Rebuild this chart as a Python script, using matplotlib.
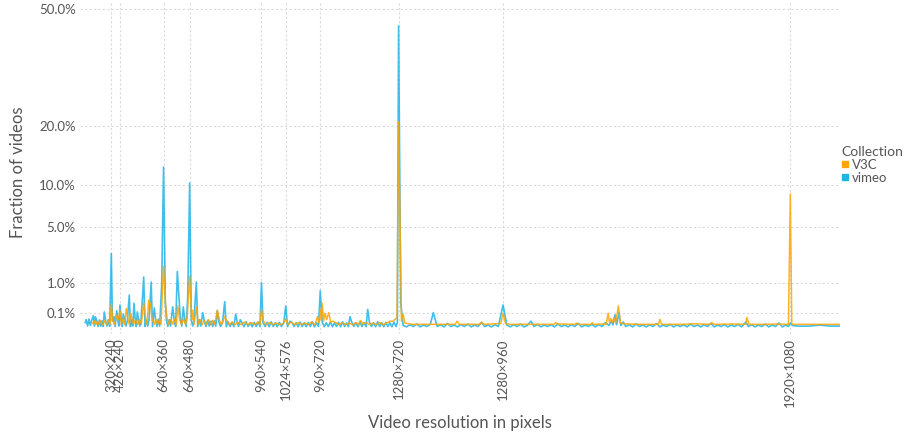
import numpy as np
import matplotlib
matplotlib.use('Agg')
import matplotlib.pyplot as plt
from matplotlib.lines import Line2D

# ---------------- data (x in kilo-pixels, y in percent of videos) ----------------
tick_res_px = [76800, 102240, 230400, 307200, 518400, 589824, 691200, 921600, 1228800, 2073600]
tick_labels = ['320×240', '426×240', '640×360', '640×480', '960×540', '1024×576',
               '960×720', '1280×720', '1280×960', '1920×1080']

y_ticks_pct = [0.1, 1.0, 5.0, 10.0, 20.0, 50.0]
y_tick_labels = ['0.1%', '1.0%', '5.0%', '10.0%', '20.0%', '50.0%']

vimeo_peaks = [(23.8, 0.069), (30, 0.058), (56.2, 0.12), (76.8, 2.7), (84.7, 0.058), (92.6, 0.14),
               (102.24, 0.25), (112, 0.09), (129.7, 0.52), (143.5, 0.29), (153.2, 0.12), (167.9, 0.35),
               (172, 1.26), (194, 1.02), (203.2, 0.19), (225, 0.96), (230.4, 12.7), (235.6, 0.33),
               (257.3, 0.21), (270.9, 1.55), (275.9, 0.44), (288.5, 0.21), (301.5, 0.47), (307.2, 10.3),
               (326.7, 1.02), (345.6, 0.11), (388.5, 0.14), (410.3, 0.33), (442.6, 0.09), (456.2, 0.03),
               (518.4, 1.0), (589.8, 0.23), (602, 0.02), (691.2, 0.67), (778.8, 0.058), (830.8, 0.16),
               (921.6, 44.9), (928, 0.29), (1023.8, 0.11), (1228.8, 0.25), (1311, 0.02), (1558, 0.08),
               (1570, 0.11), (1943, 0.015), (2073.6, 0.01)]

vimeo_base = [(0, 0.012), (3, 0.03), (7, 0.001), (11, 0.035), (15, 0.002), (19, 0.025), (27, 0.001), (34, 0.022),
              (38, 0.0005), (42, 0.028), (46, 0.001), (50, 0.02), (53, 0.0005), (60, 0.025), (64, 0.001),
              (68, 0.03), (72, 0.0008), (80, 0.02), (88, 0.0005), (96, 0.025), (99, 0.001), (106, 0.03),
              (109, 0.0005), (116, 0.035), (120, 0.001), (124, 0.025), (133, 0.0005), (137, 0.03), (140, 0.001),
              (147, 0.035), (150, 0.0005), (157, 0.025), (161, 0.001), (164, 0.03), (176, 0.0005), (180, 0.025),
              (184, 0.001), (188, 0.035), (198, 0.0005), (207, 0.03), (211, 0.0005), (215, 0.035), (219, 0.001),
              (239, 0.025), (243, 0.0005), (247, 0.03), (251, 0.001), (262, 0.025), (266, 0.0005), (280, 0.03),
              (284, 0.001), (293, 0.025), (297, 0.0005), (312, 0.03), (316, 0.001), (320, 0.025), (331, 0.0005),
              (336, 0.03), (340, 0.001), (350, 0.025), (355, 0.0005), (360, 0.025), (365, 0.001), (370, 0.02),
              (375, 0.0005), (380, 0.022), (384, 0.001), (393, 0.018), (398, 0.0005), (404, 0.014), (415, 0.0003),
              (420, 0.016), (426, 0.0005), (432, 0.013), (437, 0.0003), (447, 0.015), (451, 0.0005), (461, 0.011),
              (467, 0.0003), (473, 0.016), (479, 0.0005), (485, 0.011), (491, 0.0003), (497, 0.013), (503, 0.0005),
              (509, 0.015), (514, 0.0003), (523, 0.011), (529, 0.0005), (535, 0.013), (541, 0.0003), (547, 0.016),
              (553, 0.0005), (559, 0.011), (565, 0.0003), (571, 0.013), (577, 0.0005), (584, 0.011), (595, 0.0003),
              (608, 0.013), (614, 0.0005), (620, 0.011), (626, 0.0003), (632, 0.015), (638, 0.0005), (644, 0.011),
              (650, 0.0003), (656, 0.013), (662, 0.0005), (668, 0.016), (674, 0.0003), (680, 0.011), (686, 0.0005),
              (697, 0.013), (703, 0.0003), (709, 0.011), (715, 0.0005), (721, 0.015), (727, 0.0003), (733, 0.011),
              (739, 0.0005), (745, 0.013), (751, 0.0003), (757, 0.016), (763, 0.0005), (769, 0.011), (774, 0.0003),
              (784, 0.013), (790, 0.0005), (796, 0.011), (802, 0.0003), (808, 0.015), (814, 0.0005), (820, 0.011),
              (826, 0.0003), (836, 0.013), (842, 0.0005), (848, 0.011), (854, 0.0003), (860, 0.016), (866, 0.0005),
              (872, 0.011), (878, 0.0003), (884, 0.013), (890, 0.0005), (896, 0.011), (902, 0.0003), (908, 0.015),
              (914, 0.0005), (918, 0.011),
              (935, 0.002), (945, 0.0002), (955, 0.004), (965, 0.0005), (975, 0.006), (985, 0.0002), (995, 0.003),
              (1005, 0.0005), (1015, 0.005), (1035, 0.0005), (1045, 0.004), (1055, 0.0002), (1065, 0.008),
              (1075, 0.0005), (1085, 0.003), (1095, 0.0002), (1105, 0.004), (1115, 0.0005), (1125, 0.006),
              (1135, 0.0002), (1145, 0.003), (1155, 0.0005), (1165, 0.012), (1175, 0.0005), (1185, 0.003),
              (1195, 0.0002), (1205, 0.004), (1215, 0.0005), (1240, 0.003), (1250, 0.0002), (1260, 0.004),
              (1270, 0.0005), (1280, 0.006), (1290, 0.0002), (1300, 0.002), (1320, 0.0005), (1330, 0.005),
              (1340, 0.0002), (1350, 0.003), (1360, 0.0005), (1370, 0.004), (1380, 0.0002), (1390, 0.006),
              (1400, 0.0005), (1410, 0.003), (1420, 0.0002), (1430, 0.004), (1440, 0.0005), (1450, 0.008),
              (1460, 0.0002), (1470, 0.003), (1480, 0.0005), (1490, 0.005), (1500, 0.0002), (1510, 0.004),
              (1520, 0.0005), (1530, 0.012), (1540, 0.002), (1548, 0.02), (1552, 0.003), (1563, 0.004),
              (1575, 0.002), (1582, 0.015), (1590, 0.0005), (1600, 0.004), (1610, 0.0002), (1620, 0.006),
              (1630, 0.0005), (1640, 0.003), (1650, 0.0002), (1660, 0.004), (1670, 0.0005), (1680, 0.008),
              (1690, 0.0002), (1700, 0.003), (1710, 0.0005), (1720, 0.005), (1730, 0.0002), (1740, 0.003),
              (1750, 0.0005), (1760, 0.004), (1770, 0.0002), (1780, 0.006), (1790, 0.0005), (1800, 0.003),
              (1810, 0.0002), (1820, 0.004), (1830, 0.0005), (1840, 0.008), (1850, 0.0002), (1860, 0.003),
              (1870, 0.0005), (1880, 0.004), (1890, 0.0002), (1900, 0.003), (1910, 0.0005), (1920, 0.005),
              (1930, 0.0002), (1950, 0.0005), (1960, 0.004), (1970, 0.0002), (1980, 0.003), (1990, 0.0005),
              (2000, 0.006), (2010, 0.0002), (2020, 0.003), (2030, 0.0005), (2040, 0.01), (2050, 0.0002),
              (2060, 0.003), (2068, 0.0005), (2080, 0.002), (2100, 0.0008), (2130, 0.001), (2160, 0.003),
              (2190, 0.001), (2219, 0.001)]

v3c_peaks = [(76.8, 0.27), (92.6, 0.07), (102.24, 0.14), (121, 0.18), (134, 0.1), (172, 0.3),
             (186.5, 0.37), (191.5, 0.29), (230.4, 1.87), (236, 0.29), (272, 0.23), (300, 0.06),
             (307.2, 1.3), (316, 0.15), (327, 0.2), (388.5, 0.15), (410, 0.058), (518.4, 0.16),
             (589.8, 0.036), (683, 0.06), (691.2, 0.16), (697, 0.29), (705, 0.1), (716, 0.11),
             (730, 0.02), (810, 0.025), (921.6, 20.9)]

v3c_base = [(22, 0.008), (26, 0.025), (31, 0.004), (36, 0.02), (41, 0.004), (46, 0.025), (51, 0.004),
            (58, 0.025), (63, 0.004), (69, 0.03), (73, 0.005), (81, 0.025), (86, 0.004), (97, 0.03),
            (106, 0.005), (111, 0.035), (116, 0.004), (126, 0.03), (130, 0.004), (138, 0.035), (142, 0.005),
            (148, 0.03), (155, 0.004), (160, 0.035), (165, 0.005), (178, 0.035), (182, 0.004), (197, 0.03),
            (203, 0.005), (208, 0.035), (213, 0.004), (218, 0.03), (223, 0.005), (241, 0.035), (246, 0.004),
            (252, 0.03), (258, 0.005), (263, 0.035), (268, 0.004), (278, 0.03), (283, 0.005), (289, 0.035),
            (295, 0.004), (313, 0.03), (320, 0.005), (322, 0.035), (333, 0.005), (338, 0.03), (344, 0.004),
            (350, 0.025), (357, 0.004), (363, 0.03), (369, 0.004), (375, 0.025), (381, 0.004), (395, 0.025),
            (401, 0.004), (418, 0.02), (424, 0.004), (432, 0.015), (440, 0.004), (448, 0.012), (458, 0.004),
            (468, 0.015), (478, 0.004), (488, 0.012), (498, 0.004), (508, 0.015), (514, 0.004), (524, 0.02),
            (532, 0.004), (542, 0.012), (552, 0.004), (562, 0.01), (572, 0.004), (582, 0.008), (596, 0.004),
            (606, 0.015), (616, 0.004), (626, 0.012), (636, 0.004), (646, 0.01), (656, 0.004), (666, 0.015),
            (676, 0.004), (688, 0.01), (694, 0.03), (701, 0.02), (710, 0.03), (722, 0.015), (738, 0.01),
            (746, 0.004), (756, 0.012), (766, 0.004), (776, 0.01), (786, 0.004), (796, 0.012), (804, 0.004),
            (816, 0.006), (826, 0.012), (836, 0.004), (846, 0.01), (856, 0.004), (866, 0.012), (876, 0.004),
            (886, 0.01), (896, 0.02), (905, 0.02), (912, 0.035), (917, 0.05),
            (930, 0.02), (935, 0.09), (940, 0.01), (960, 0.005), (1000, 0.005), (1088, 0.005), (1094, 0.02),
            (1100, 0.005), (1160, 0.005), (1166, 0.015), (1172, 0.005), (1222, 0.008), (1228.8, 0.1),
            (1236, 0.008), (1250, 0.005), (1378, 0.005), (1384, 0.012), (1390, 0.006), (1440, 0.005),
            (1445, 0.01), (1450, 0.005), (1488, 0.005), (1491, 0.012), (1494, 0.005), (1532, 0.006),
            (1538, 0.1), (1542, 0.01), (1546, 0.04), (1550, 0.012), (1555, 0.05), (1560, 0.01),
            (1568, 0.23), (1574, 0.01), (1580, 0.008), (1600, 0.006), (1640, 0.005), (1686, 0.005),
            (1690, 0.033), (1695, 0.005), (1760, 0.005), (1790, 0.007), (1838, 0.005), (1842, 0.012),
            (1850, 0.005), (1900, 0.006), (1942, 0.005), (1946, 0.05), (1952, 0.005), (2000, 0.005),
            (2040, 0.006), (2068, 0.005), (2073.6, 8.8), (2078, 0.005), (2219, 0.005)]


def series(peaks, base):
    pts = sorted(peaks + base, key=lambda p: p[0])
    x = np.array([p[0] for p in pts]) * 1000.0
    y = np.array([p[1] for p in pts]) / 100.0
    return x, y


vx, vy = series(vimeo_peaks, vimeo_base)
cx, cy = series(v3c_peaks, v3c_base)

# ---------------- figure ----------------
plt.rcParams['font.family'] = ['Lato', 'DejaVu Sans']
W, H = 905, 436
fig = plt.figure(figsize=(W / 100, H / 100), dpi=100)
ax = fig.add_axes([80 / W, (H - 334) / H, 760 / W, 331 / H])

ORANGE = '#FFA500'
BLUE = '#1FB4E8'
TXT = '#555555'


def fwd(v):
    v = np.asarray(v, dtype=float)
    return np.sign(v) * np.sqrt(np.abs(v))


def inv(v):
    v = np.asarray(v, dtype=float)
    return np.sign(v) * v ** 2


ax.set_yscale('function', functions=(fwd, inv))
ax.plot(vx, vy, color=BLUE, lw=1.2, alpha=0.85, zorder=3)
ax.plot(cx, cy, color=ORANGE, lw=1.1, alpha=0.85, zorder=4)

ax.set_xlim(-15300, 2219700)
ax.set_ylim(-0.000208, 0.52)

ax.set_xticks(tick_res_px)
ax.set_xticklabels(tick_labels, rotation=90, fontsize=9.5, color=TXT)
ax.set_yticks([p / 100 for p in y_ticks_pct])
ax.set_yticklabels(y_tick_labels, fontsize=9.5, color=TXT)
ax.tick_params(axis='both', length=0, pad=3)
ax.minorticks_off()

ax.grid(True, color='#d9d9e0', lw=0.8, ls=(0, (2, 2)), zorder=0)
for s in ax.spines.values():
    s.set_visible(False)

fig.text(18 / W, 1 - 172 / H, 'Fraction of videos', rotation=90, ha='center', va='center',
         fontsize=12, color=TXT)
fig.text(460 / W, 1 - 423 / H, 'Video resolution in pixels', ha='center', va='center',
         fontsize=12, color=TXT)

handles = [Line2D([], [], ls='none', marker='s', markersize=5, color=ORANGE),
           Line2D([], [], ls='none', marker='s', markersize=5, color=BLUE)]
leg = fig.legend(handles, ['V3C', 'vimeo'], title='Collection', loc='upper left',
                 bbox_to_anchor=(832 / W, 1 - 137 / H), frameon=False, fontsize=9.5,
                 title_fontsize=10, handlelength=0.5, handletextpad=0.3, labelspacing=0.05,
                 borderpad=0.2, alignment='left')
for t in leg.get_texts():
    t.set_color(TXT)
leg.get_title().set_color(TXT)

fig.savefig('out.png', dpi=100)
